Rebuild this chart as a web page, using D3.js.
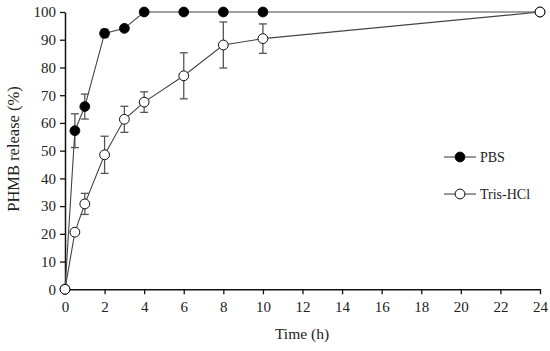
<!DOCTYPE html>
<html><head><meta charset="utf-8">
<script src="https://cdn.jsdelivr.net/npm/d3@7"></script>
<style>body{margin:0;background:#fff}svg{display:block}text{font-family:"Liberation Serif","DejaVu Serif",serif;fill:#222}</style>
</head><body><svg id="c" width="550" height="351"></svg>
<script>
const time = [0, 0.5, 1, 2, 3, 4, 6, 8, 10, 24];
const pbs = [0, 57.2, 65.9, 92.3, 94.1, 100, 100, 100, 100, 100];
const pbsErr = [0, 6.1, 4.5, 1.5, 0.8, 0.5, 0, 0, 0, 0];
const tris = [0, 20.6, 30.8, 48.5, 61.3, 67.5, 77.0, 88.1, 90.4, 100];
const trisErr = [0, 0.8, 3.8, 6.7, 4.7, 3.7, 8.3, 8.3, 5.3, 0];
const xTicks = d3.range(0, 25, 2);
const yTicks = d3.range(0, 101, 10);

const svg = d3.select("#c");
const x = d3.scaleLinear().domain([0, 24]).range([65, 540]);
const y = d3.scaleLinear().domain([0, 100]).range([289.3, 12]);

const xAxis = svg.append("g").attr("transform", "translate(0,289.3)")
  .call(d3.axisBottom(x).tickValues(xTicks).tickSize(5).tickSizeOuter(0).tickPadding(7));
const yAxis = svg.append("g").attr("transform", "translate(65,0)")
  .call(d3.axisLeft(y).tickValues(yTicks).tickSize(5).tickSizeOuter(0).tickPadding(4));
[xAxis, yAxis].forEach(a => {
  a.selectAll(".domain").attr("stroke", "#111").attr("stroke-width", 1.5);
  a.selectAll(".tick line").attr("stroke", "#111").attr("stroke-width", 1.3);
  a.selectAll("text").attr("font-size", 15).attr("fill", "#222")
    .style("font-family", '"Liberation Serif","DejaVu Serif",serif');
});

svg.append("text").attr("x", 302).attr("y", 339).attr("text-anchor", "middle")
  .attr("font-size", 15.5).text("Time (h)");
svg.append("text").attr("transform", "translate(19,149) rotate(-90)")
  .attr("text-anchor", "middle").attr("font-size", 16.5).text("PHMB release (%)");

function series(vals, errs, fill) {
  const pts = time.map((t, i) => ({t, v: vals[i], e: errs[i]}));
  const g = svg.append("g");
  const eb = g.selectAll("g.eb").data(pts.filter(p => p.e > 0)).join("g").attr("stroke", "#555").attr("stroke-width", 1.3);
  eb.append("line").attr("x1", p => x(p.t)).attr("x2", p => x(p.t)).attr("y1", p => y(p.v - p.e)).attr("y2", p => y(Math.min(100.5, p.v + p.e)));
  eb.append("line").attr("x1", p => x(p.t) - 4).attr("x2", p => x(p.t) + 4).attr("y1", p => y(p.v - p.e)).attr("y2", p => y(p.v - p.e));
  eb.append("line").attr("x1", p => x(p.t) - 4).attr("x2", p => x(p.t) + 4).attr("y1", p => y(p.v + p.e)).attr("y2", p => y(p.v + p.e));
  g.append("path").datum(pts).attr("fill", "none").attr("stroke", "#444").attr("stroke-width", 1.1)
    .attr("d", d3.line().x(p => x(p.t)).y(p => y(p.v)));
  g.selectAll("circle").data(pts).join("circle").attr("cx", p => x(p.t)).attr("cy", p => y(p.v))
    .attr("r", 4.9).attr("fill", fill).attr("stroke", "#111").attr("stroke-width", 1);
}
series(pbs, pbsErr, "#000");
series(tris, trisErr, "#fff");

const legend = [{name: "PBS", fill: "#000", yy: 157}, {name: "Tris-HCl", fill: "#fff", yy: 194}];
legend.forEach(l => {
  svg.append("line").attr("x1", 444).attr("x2", 476).attr("y1", l.yy).attr("y2", l.yy).attr("stroke", "#444").attr("stroke-width", 1.1);
  svg.append("circle").attr("cx", 460).attr("cy", l.yy).attr("r", 4.9).attr("fill", l.fill).attr("stroke", "#111");
  svg.append("text").attr("x", 480).attr("y", l.yy + 5).attr("font-size", 14).text(l.name);
});
</script></body></html>
